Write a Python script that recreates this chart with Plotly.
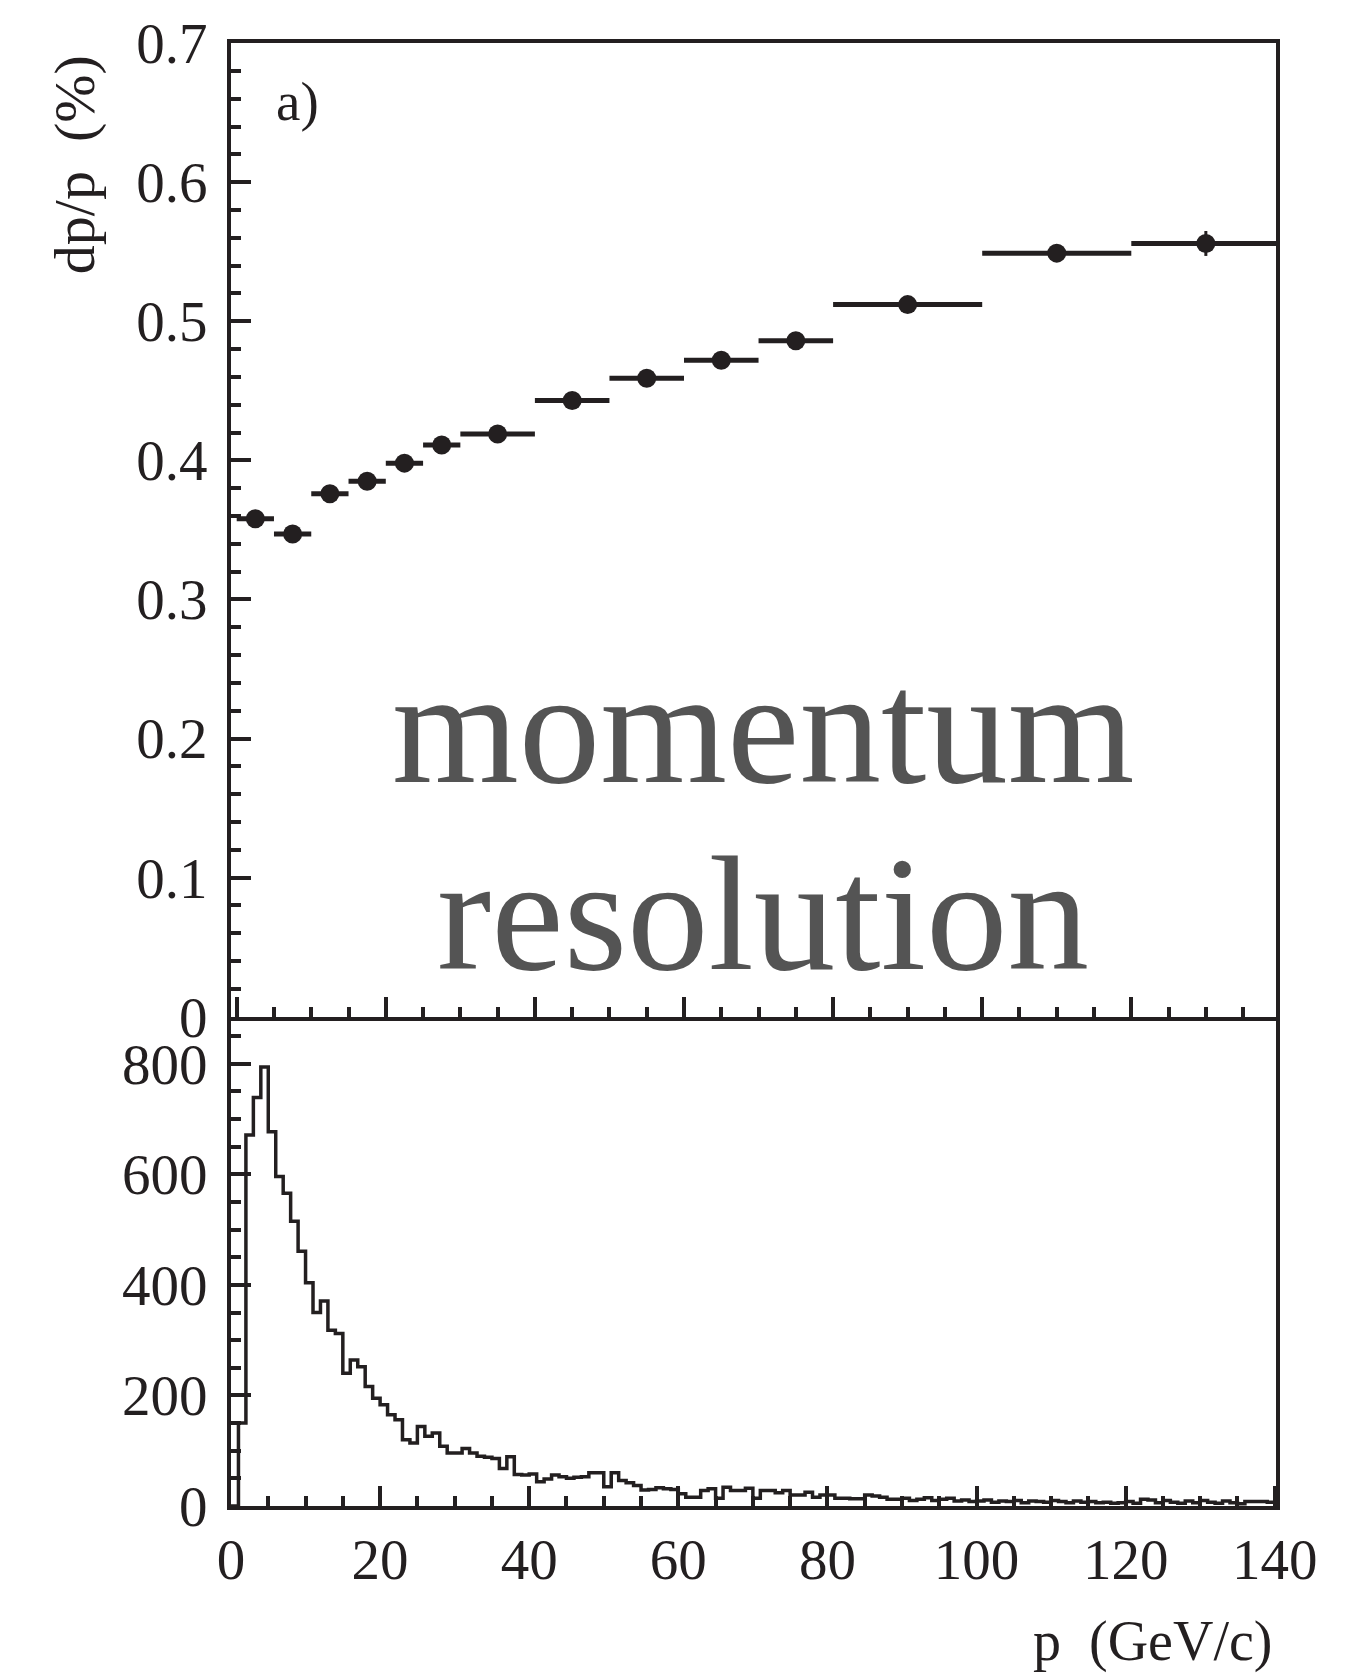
import plotly.graph_objects as go

INK = "#231f20"
SERIF = "Liberation Serif"

# ---------------- data: top panel (momentum resolution per bin) ----------------
bin_lo = [0, 5, 10, 15, 20, 25, 30, 40, 50, 60, 70, 80, 100, 120]
bin_hi = [5, 10, 15, 20, 25, 30, 40, 50, 60, 70, 80, 100, 120, 140]
dp_over_p = [0.358, 0.347, 0.376, 0.385, 0.398, 0.411, 0.419,
             0.443, 0.459, 0.472, 0.486, 0.512, 0.549, 0.556]
dp_over_p_err = [0.002, 0.002, 0.002, 0.002, 0.002, 0.002, 0.002,
                 0.002, 0.002, 0.002, 0.003, 0.003, 0.006, 0.009]

# ---------------- data: bottom panel (momentum distribution, 1 GeV bins) -------
hist_edges = list(range(0, 141))
hist_counts = [
    0, 150, 671, 739, 794, 677, 596, 566, 515, 461,
    404, 350, 371, 318, 312, 240, 264, 252, 216, 195,
    183, 165, 156, 120, 114, 144, 126, 132, 108, 96,
    96, 104, 96, 90, 88, 86, 68, 89, 57, 56,
    58, 44, 49, 56, 53, 50, 52, 53, 60, 60,
    35, 60, 46, 42, 37, 29, 30, 33, 31, 30,
    22, 16, 16, 28, 31, 14, 34, 28, 28, 32,
    14, 28, 28, 24, 28, 20, 20, 25, 16, 20,
    20, 14, 14, 13, 13, 20, 18, 16, 12, 12,
    14, 10, 12, 15, 10, 12, 14, 9, 11, 8,
    9, 11, 7, 9, 8, 10, 6, 9, 8, 7,
    10, 8, 6, 9, 7, 8, 6, 7, 5, 6,
    8, 5, 12, 11, 6, 10, 7, 5, 9, 6,
    10, 7, 5, 9, 6, 4, 8, 8, 8, 7,
]

y_ticks_top = [0, 0.1, 0.2, 0.3, 0.4, 0.5, 0.6, 0.7]
y_ticks_bottom = [0, 200, 400, 600, 800]
x_ticks = [0, 20, 40, 60, 80, 100, 120, 140]

# ---------------- derived ----------------
x_center = [(a + b) / 2 for a, b in zip(bin_lo, bin_hi)]
x_half = [(b - a) / 2 for a, b in zip(bin_lo, bin_hi)]
step_y = hist_counts + [hist_counts[-1]]

fig = go.Figure()

fig.add_trace(go.Scatter(
    x=x_center, y=dp_over_p, mode="markers",
    marker=dict(size=19, color=INK),
    error_x=dict(type="data", array=x_half, thickness=5, width=0, color=INK),
    error_y=dict(type="data", array=dp_over_p_err, thickness=3, width=0, color=INK),
    xaxis="x", yaxis="y", showlegend=False, hoverinfo="skip",
))

fig.add_trace(go.Scatter(
    x=hist_edges, y=step_y, mode="lines",
    line=dict(shape="hv", color=INK, width=3.5),
    xaxis="x2", yaxis="y2", showlegend=False, hoverinfo="skip",
))

tickfont = dict(family=SERIF, size=57, color=INK)

common_ax = dict(
    showgrid=False, zeroline=False, showline=True, linecolor=INK, linewidth=4,
    ticks="inside", tickcolor=INK, tickwidth=4, ticklen=20,
)

fig.update_layout(
    width=1361, height=1676,
    margin=dict(l=231, r=85, t=41, b=170),
    paper_bgcolor="white", plot_bgcolor="white",
    showlegend=False,
    xaxis=dict(
        **common_ax, domain=[0, 1], anchor="y", range=[-0.765, 139.41],
        tickvals=x_ticks, showticklabels=False, mirror=True,
        minor=dict(dtick=5, tick0=0, ticks="inside", ticklen=10, tickwidth=4, tickcolor=INK),
    ),
    yaxis=dict(
        **common_ax, domain=[0.33447, 1], anchor="x", range=[0, 0.7001],
        tickvals=y_ticks_top, ticktext=[f"{v:g}" for v in y_ticks_top],
        tickfont=tickfont, mirror=True, ticklabelstandoff=8,
        minor=dict(dtick=0.02, tick0=0, ticks="inside", ticklen=10, tickwidth=4, tickcolor=INK),
    ),
    xaxis2=dict(
        **common_ax, domain=[0, 1], anchor="y2", range=[0, 140.17],
        tickvals=x_ticks, tickfont=tickfont, mirror=False, ticklabelstandoff=1,
        minor=dict(dtick=5, tick0=0, ticks="inside", ticklen=10, tickwidth=4, tickcolor=INK),
    ),
    yaxis2=dict(
        **common_ax, domain=[0, 0.33174], anchor="x2", range=[0, 878],
        tickvals=y_ticks_bottom, tickfont=tickfont, mirror=True, ticklabelstandoff=8,
        minor=dict(dtick=50, tick0=0, ticks="inside", ticklen=10, tickwidth=4, tickcolor=INK),
    ),
    annotations=[
        dict(text="momentum", xref="paper", yref="paper", x=0.5091, y=0.5324,
             xanchor="center", yanchor="middle", showarrow=False,
             font=dict(family=SERIF, size=163, color="#545454")),
        dict(text="resolution", xref="paper", yref="paper", x=0.5091, y=0.4048,
             xanchor="center", yanchor="middle", showarrow=False,
             font=dict(family=SERIF, size=163, color="#545454")),
        dict(text="a)", xref="paper", yref="paper", x=0.0641, y=0.9597,
             xanchor="center", yanchor="middle", showarrow=False,
             font=dict(family=SERIF, size=55, color=INK)),
        dict(text="dp/p  (%)", xref="paper", yref="paper", x=-0.149, y=0.9167,
             xanchor="center", yanchor="middle", textangle=-90, showarrow=False,
             font=dict(family=SERIF, size=58, color=INK)),
        dict(text="p  (GeV/c)", xref="paper", yref="paper", x=0.998, y=-0.1154,
             xanchor="right", yanchor="bottom", showarrow=False,
             font=dict(family=SERIF, size=56, color=INK)),
    ],
)

fig.write_html("out.html")
